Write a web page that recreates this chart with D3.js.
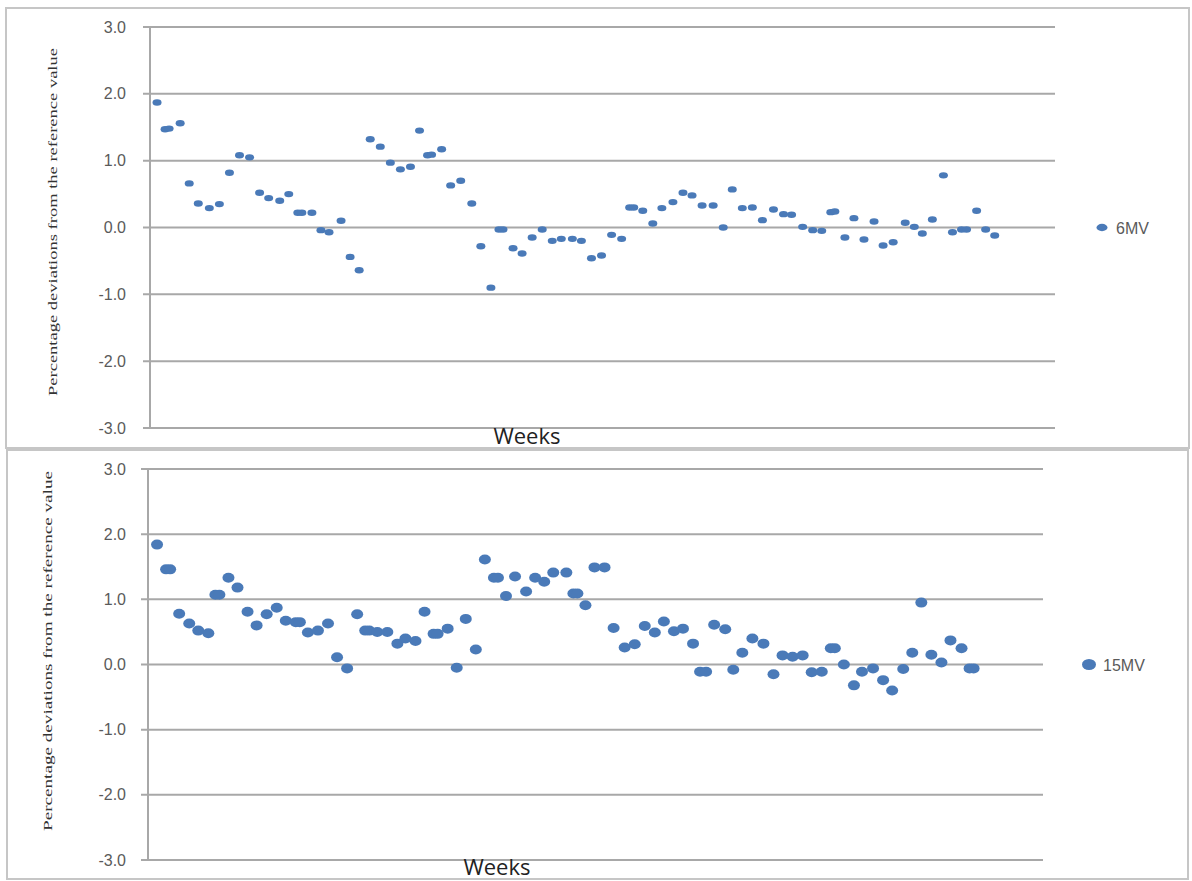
<!DOCTYPE html>
<html>
<head>
<meta charset="utf-8">
<script src="https://cdn.jsdelivr.net/npm/d3@7"></script>
<style>
  body { margin: 0; background: #fff; }
  svg { display: block; }
</style>
</head>
<body>
<div id="chart"></div>
<script>
// y ticks shared by both panels
let yTicks = [3, 2, 1, 0, -1, -2, -3]

// 6MV: week position and percentage deviation
let weeks6 = [0.7, 1.5, 1.9, 3.0, 3.9, 4.8, 5.9, 6.9, 7.9, 8.9, 9.9, 10.9, 11.8, 12.9, 13.8, 14.7, 15.1, 16.1,
  17.0, 17.8, 19.0, 19.9, 20.8, 21.9, 22.9, 23.9, 24.9, 25.9, 26.8, 27.6, 28.0, 29.0, 29.9, 30.9, 32.0, 32.9,
  33.9, 34.7, 35.1, 36.1, 37.0, 38.0, 39.0, 40.0, 40.9, 42.0, 42.9, 43.9, 44.9, 45.9, 46.9, 47.7, 48.1, 49.0,
  50.0, 50.9, 52.0, 53.0, 53.9, 54.9, 56.0, 57.0, 57.9, 58.9, 59.9, 60.9, 62.0, 63.0, 63.8, 64.9, 65.9, 66.8,
  67.7, 68.1, 69.1, 70.0, 71.0, 72.0, 72.9, 73.9, 75.1, 76.0, 76.8, 77.8, 78.9, 79.8, 80.7, 81.2, 82.2, 83.1, 84.0]
let values6 = [1.87, 1.47, 1.48, 1.56, 0.66, 0.36, 0.29, 0.35, 0.82, 1.08, 1.05, 0.52, 0.44, 0.40, 0.50, 0.22, 0.22, 0.22,
  -0.04, -0.07, 0.10, -0.44, -0.64, 1.32, 1.21, 0.97, 0.87, 0.91, 1.45, 1.08, 1.09, 1.17, 0.63, 0.70, 0.36, -0.28,
  -0.90, -0.03, -0.03, -0.31, -0.39, -0.15, -0.03, -0.20, -0.17, -0.17, -0.20, -0.46, -0.42, -0.11, -0.17, 0.30, 0.30, 0.25,
  0.06, 0.29, 0.38, 0.52, 0.48, 0.33, 0.33, 0.00, 0.57, 0.29, 0.30, 0.11, 0.27, 0.20, 0.19, 0.01, -0.04, -0.05,
  0.23, 0.24, -0.15, 0.14, -0.18, 0.09, -0.27, -0.22, 0.07, 0.01, -0.09, 0.12, 0.78, -0.07, -0.03, -0.03, 0.25, -0.03, -0.12]

// 15MV
let weeks15 = [0.9, 1.8, 2.2, 3.1, 4.1, 5.0, 6.0, 6.7, 7.1, 8.0, 8.9, 9.9, 10.8, 11.8, 12.8, 13.7, 14.7, 15.1,
  15.9, 16.9, 17.9, 18.8, 19.8, 20.8, 21.6, 22.0, 22.8, 23.8, 24.8, 25.6, 26.6, 27.5, 28.4, 28.8, 29.8, 30.7,
  31.6, 32.6, 33.5, 34.4, 34.8, 35.6, 36.5, 37.6, 38.5, 39.4, 40.3, 41.6, 42.3, 42.7, 43.5, 44.4, 45.4, 46.3,
  47.4, 48.4, 49.4, 50.4, 51.3, 52.3, 53.2, 54.2, 54.9, 55.5, 56.3, 57.4, 58.2, 59.1, 60.1, 61.2, 62.2, 63.1,
  64.1, 65.1, 66.0, 67.0, 67.9, 68.3, 69.2, 70.2, 71.0, 72.1, 73.1, 74.0, 75.1, 76.0, 76.9, 77.9, 78.9, 79.8,
  80.9, 81.7, 82.1]
let values15 = [1.84, 1.46, 1.46, 0.78, 0.63, 0.52, 0.48, 1.07, 1.07, 1.33, 1.18, 0.81, 0.60, 0.77, 0.87, 0.67, 0.65, 0.65,
  0.49, 0.52, 0.63, 0.11, -0.06, 0.77, 0.52, 0.52, 0.50, 0.50, 0.32, 0.40, 0.36, 0.81, 0.47, 0.47, 0.55, -0.05,
  0.70, 0.23, 1.61, 1.33, 1.33, 1.05, 1.35, 1.12, 1.33, 1.27, 1.41, 1.41, 1.09, 1.09, 0.91, 1.49, 1.49, 0.56,
  0.26, 0.31, 0.59, 0.49, 0.66, 0.51, 0.55, 0.32, -0.11, -0.11, 0.61, 0.54, -0.08, 0.18, 0.40, 0.32, -0.15, 0.14,
  0.12, 0.14, -0.12, -0.11, 0.25, 0.25, 0.00, -0.32, -0.11, -0.06, -0.24, -0.40, -0.07, 0.18, 0.95, 0.15, 0.03, 0.37,
  0.25, -0.06, -0.06]

let yTitle = 'Percentage deviations from the reference value'
let xTitle = 'Weeks'

let svg = d3.select('#chart').append('svg')
  .attr('width', 1192)
  .attr('height', 881)

let blue = '#4a7ab8'

function panel (cfg) {
  // frame
  svg.append('rect')
    .attr('x', cfg.frame[0]).attr('y', cfg.frame[1])
    .attr('width', cfg.frame[2]).attr('height', cfg.frame[3])
    .attr('fill', 'none').attr('stroke', '#c6c6c6').attr('stroke-width', 2)

  let x = d3.scaleLinear().domain([0, 89]).range([cfg.left, cfg.left + 895])
  let y = d3.scaleLinear().domain([-3, 3]).range([cfg.bottom, cfg.top])

  let g = svg.append('g')

  // gridlines with ticks sticking out on the left
  g.selectAll('line.grid')
    .data(yTicks)
    .enter().append('line')
    .attr('class', 'grid')
    .attr('x1', cfg.left - 7)
    .attr('x2', cfg.right)
    .attr('y1', d => y(d))
    .attr('y2', d => y(d))
    .attr('stroke', '#a8a8a8')
    .attr('stroke-width', 2)

  g.append('line')
    .attr('x1', cfg.left).attr('x2', cfg.left)
    .attr('y1', y(3)).attr('y2', y(-3))
    .attr('stroke', '#a8a8a8').attr('stroke-width', 2)

  g.selectAll('text.tick')
    .data(yTicks)
    .enter().append('text')
    .attr('class', 'tick')
    .attr('x', 126)
    .attr('y', d => y(d) + 5.5)
    .attr('text-anchor', 'end')
    .attr('font-family', 'Liberation Sans, Arial, sans-serif')
    .attr('font-size', 16)
    .attr('fill', '#5a5a5a')
    .text(d => d3.format('.1f')(d).replace('−', '-'))

  // y title
  g.append('text')
    .attr('transform', 'translate(' + cfg.titleX + ',' + cfg.titleY + ') rotate(-90)')
    .attr('text-anchor', 'middle')
    .attr('font-family', 'Liberation Serif, Times New Roman, serif')
    .attr('font-size', 13.5)
    .attr('textLength', cfg.titleLen)
    .attr('lengthAdjust', 'spacingAndGlyphs')
    .attr('fill', '#333')
    .text(yTitle)

  g.append('text')
    .attr('x', cfg.weeksX)
    .attr('y', cfg.weeksY)
    .attr('text-anchor', 'middle')
    .attr('font-family', 'Open Sans, Liberation Sans, sans-serif')
    .attr('font-size', 22)
    .attr('fill', '#222')
    .text(xTitle)

  let pts = cfg.weeks.map((w, i) => [w, cfg.values[i]])
  g.selectAll('ellipse.pt')
    .data(pts)
    .enter().append('ellipse')
    .attr('class', 'pt')
    .attr('cx', d => x(d[0]))
    .attr('cy', d => y(d[1]))
    .attr('rx', cfg.rx)
    .attr('ry', cfg.ry)
    .attr('fill', blue)

  // legend
  g.append('ellipse')
    .attr('cx', cfg.legX).attr('cy', y(0))
    .attr('rx', cfg.rx + 1).attr('ry', cfg.ry + 0.5)
    .attr('fill', blue)
  g.append('text')
    .attr('x', cfg.legX + 14)
    .attr('y', y(0) + 6)
    .attr('font-family', 'Liberation Sans, Arial, sans-serif')
    .attr('font-size', 16)
    .attr('fill', '#5a5a5a')
    .text(cfg.name)
}

panel({
  frame: [6, 8, 1183, 440],
  left: 150, right: 1055, top: 27, bottom: 428,
  titleX: 57, titleY: 222, titleLen: 348,
  weeksX: 527, weeksY: 444,
  weeks: weeks6, values: values6,
  rx: 4.5, ry: 3.2,
  legX: 1102, name: '6MV'
})

panel({
  frame: [7, 450, 1181, 429],
  left: 148, right: 1043, top: 469, bottom: 860,
  titleX: 52, titleY: 651, titleLen: 360,
  weeksX: 497, weeksY: 875,
  weeks: weeks15, values: values15,
  rx: 6, ry: 5,
  legX: 1089, name: '15MV'
})
</script>
</body>
</html>
